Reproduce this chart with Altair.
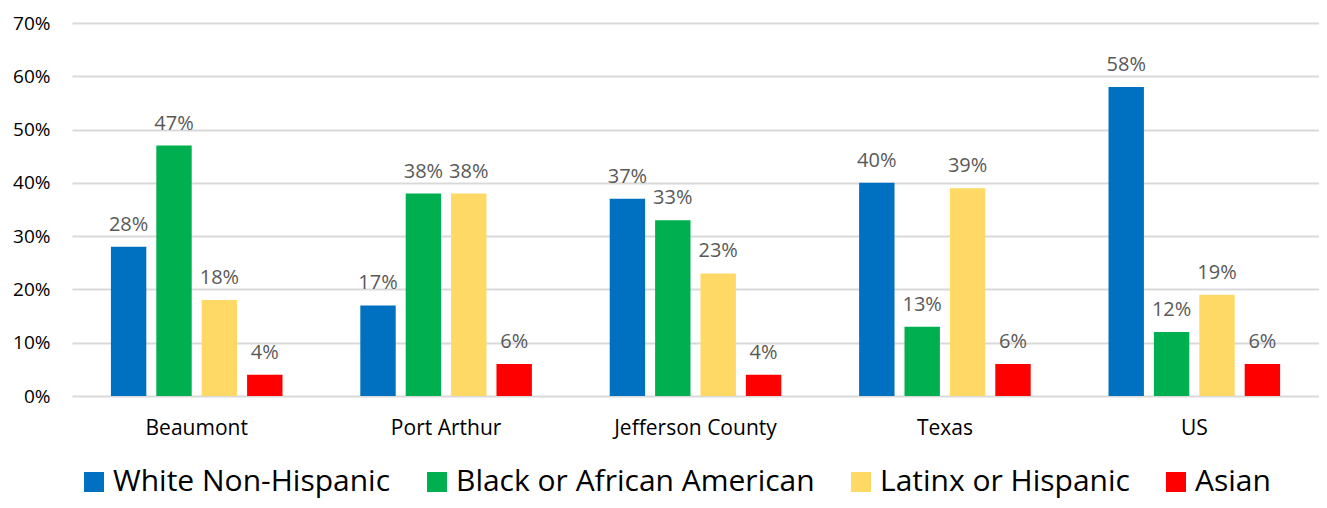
import altair as alt
import pandas as pd

places = ["Beaumont", "Port Arthur", "Jefferson County", "Texas", "US"]
groups = ["White Non-Hispanic", "Black or African American", "Latinx or Hispanic", "Asian"]
colors = ["#0070C0", "#00B050", "#FFD966", "#FF0000"]
white = [28, 17, 37, 40, 58]
black = [47, 38, 33, 13, 12]
latinx = [18, 38, 23, 39, 19]
asian = [4, 6, 4, 6, 6]

rows = []
for series, vals in zip(groups, [white, black, latinx, asian]):
    for p, v in zip(places, vals):
        rows.append({"place": p, "group": series, "value": v})
df = pd.DataFrame(rows)

FONT = "Open Sans"

x = alt.X("place:N", sort=places, title=None,
          scale=alt.Scale(paddingInner=0.272, paddingOuter=0.136),
          axis=alt.Axis(labelAngle=0, labelFontSize=21, labelColor="#000000",
                        labelFont=FONT, labelPadding=21, ticks=False, domain=False))
xo = alt.XOffset("group:N", sort=groups,
                 scale=alt.Scale(paddingInner=0.22, paddingOuter=0.11))
y = alt.Y("value:Q", title=None,
          scale=alt.Scale(domain=[0, 70], nice=False),
          axis=alt.Axis(values=[0, 10, 20, 30, 40, 50, 60, 70],
                        labelExpr="datum.value + '%'", labelFontSize=19,
                        labelColor="#000000", labelFont=FONT, labelPadding=22,
                        ticks=False, domain=False, gridColor="#D9D9D9",
                        gridWidth=2))

bars = alt.Chart(df).mark_bar().encode(
    x=x, xOffset=xo, y=y,
    color=alt.Color("group:N", sort=groups,
                    scale=alt.Scale(domain=groups, range=colors),
                    legend=alt.Legend(title=None, orient="none", direction="horizontal",
                                      legendX=7, legendY=444, symbolType="square",
                                      symbolSize=400, symbolStrokeWidth=0,
                                      labelFontSize=30, labelFont=FONT,
                                      labelColor="#000000", labelOffset=4,
                                      columnPadding=31, labelLimit=600)),
)

labels = alt.Chart(df).transform_calculate(
    lab="datum.value + '%'"
).mark_text(baseline="alphabetic", dy=-16, fontSize=20, font=FONT,
            color="#595959").encode(
    x=x, xOffset=xo, y=y, text="lab:N"
)

chart = (bars + labels).properties(
    width=1247, height=373,
    padding={"left": 64, "top": 15, "right": 0, "bottom": 104},
    autosize=alt.AutoSizeParams(type="none"),
    background="white",
).configure_view(stroke=None)

chart.save("out.html", embed_options={"renderer": "svg", "actions": False})
